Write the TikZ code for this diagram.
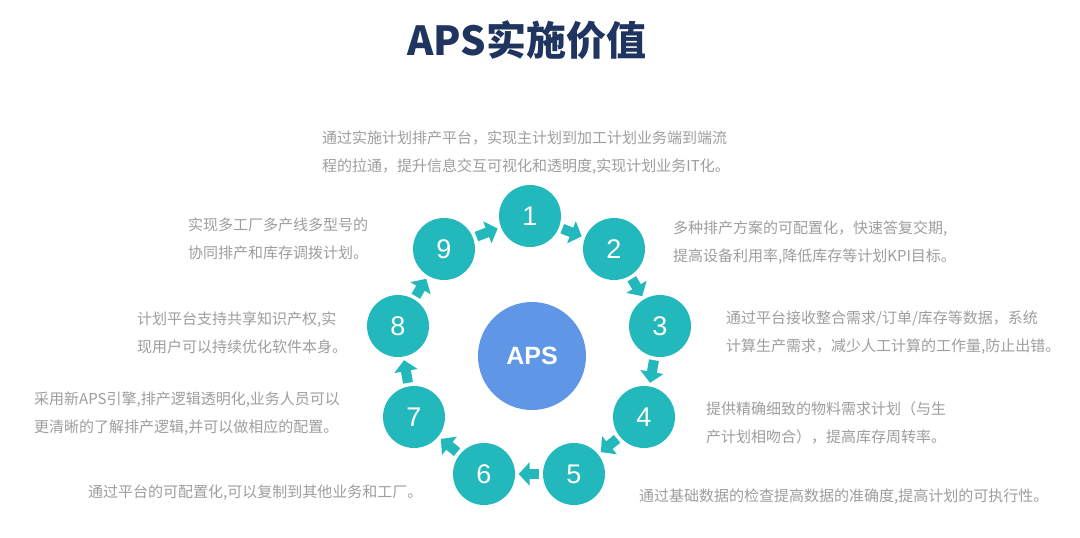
\documentclass[tikz,border=0pt]{standalone}
\usepackage{fontspec}
\newfontfamily\cjk{Noto Sans CJK SC}
\newfontfamily\numfont{Liberation Sans}
\usetikzlibrary{arrows.meta,calc}
\definecolor{tealc}{RGB}{35,185,188}
\definecolor{apsblue}{RGB}{96,150,230}
\definecolor{titlec}{RGB}{31,53,96}
\definecolor{txtgray}{RGB}{158,158,158}
\tikzset{
 stepcirc/.style={circle, fill=tealc, minimum size=62pt, inner sep=0pt, text=white, font=\numfont\fontsize{27}{27}\selectfont},
 flowarrow/.style={draw=tealc, line width=10pt, -{Triangle[width=23pt,length=11pt]}, shorten <=3.5pt, shorten >=3.5pt},
 desc/.style={anchor=west, inner sep=0pt, align=left, text=txtgray, font=\cjk\fontsize{15}{28}\selectfont},
}
\begin{document}
\begin{tikzpicture}[x=1pt,y=-1pt]
\useasboundingbox (0,0) rectangle (1080,538);
\fill[white] (0,0) rectangle (1080,538);
\node[text=titlec, font=\cjk\bfseries\fontsize{40}{40}\selectfont, inner sep=0pt] (title) at (527,40) {APS实施价值};
\node[circle, fill=apsblue, minimum size=108pt, inner sep=0pt, text=white, font=\numfont\bfseries\fontsize{25}{25}\selectfont] (aps) at (532,356) {APS};
\node[stepcirc] (c1) at (530,216) {1};
\node[stepcirc] (c2) at (614,249) {2};
\node[stepcirc] (c3) at (660,326) {3};
\node[stepcirc] (c4) at (644,417) {4};
\node[stepcirc] (c5) at (574,474) {5};
\node[stepcirc] (c6) at (484,474) {6};
\node[stepcirc] (c7) at (414,417) {7};
\node[stepcirc] (c8) at (398,326) {8};
\node[stepcirc] (c9) at (444,249) {9};
\draw[flowarrow] (c1) -- (c2);
\draw[flowarrow] (c2) -- (c3);
\draw[flowarrow] (c3) -- (c4);
\draw[flowarrow] (c4) -- (c5);
\draw[flowarrow] (c5) -- (c6);
\draw[flowarrow] (c6) -- (c7);
\draw[flowarrow] (c7) -- (c8);
\draw[flowarrow] (c8) -- (c9);
\draw[flowarrow] (c9) -- (c1);
\node[desc] (t1) at (322,152.5) {通过实施计划排产平台，实现主计划到加工计划业务端到端流\\程的拉通，提升信息交互可视化和透明度,实现计划业务IT化。};
\node[desc] (t2) at (673,243) {多种排产方案的可配置化，快速答复交期,\\提高设备利用率,降低库存等计划KPI目标。};
\node[desc] (t3) at (726,332.5) {通过平台接收整合需求/订单/库存等数据，系统\\计算生产需求，减少人工计算的工作量,防止出错。};
\node[desc] (t4) at (706,423) {提供精确细致的物料需求计划（与生\\产计划相吻合），提高库存周转率。};
\node[desc] (t5) at (639,497) {通过基础数据的检查提高数据的准确度,提高计划的可执行性。};
\node[desc] (t6) at (88,493) {通过平台的可配置化,可以复制到其他业务和工厂。};
\node[desc] (t7) at (34,414) {采用新APS引擎,排产逻辑透明化,业务人员可以\\更清晰的了解排产逻辑,并可以做相应的配置。};
\node[desc] (t8) at (137,332.5) {计划平台支持共享知识产权,实\\现用户可以持续优化软件本身。};
\node[desc] (t9) at (188,238.5) {实现多工厂多产线多型号的\\协同排产和库存调拨计划。};
\end{tikzpicture}
\end{document}
